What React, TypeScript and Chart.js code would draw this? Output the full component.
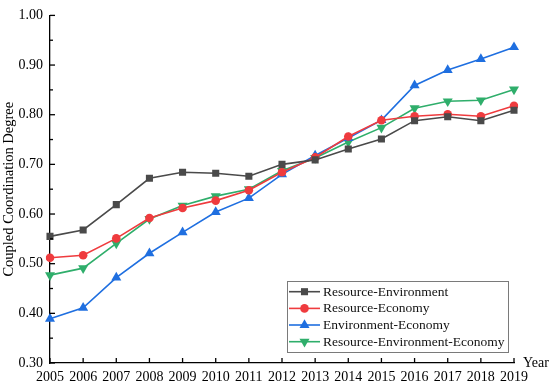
import React, { useEffect, useRef } from "react";
import { Chart, registerables } from "chart.js";

Chart.register(...registerables);

const years = ["2005","2006","2007","2008","2009","2010","2011","2012","2013","2014","2015","2016","2017","2018","2019"];
const resourceEnvironment = [0.555,0.568,0.619,0.672,0.684,0.682,0.676,0.700,0.709,0.731,0.751,0.788,0.796,0.788,0.809];
const resourceEconomy = [0.512,0.517,0.551,0.592,0.612,0.627,0.648,0.684,0.714,0.756,0.789,0.797,0.801,0.797,0.818];
const environmentEconomy = [0.389,0.411,0.472,0.521,0.563,0.604,0.632,0.680,0.718,0.753,0.789,0.859,0.890,0.912,0.936];
const resourceEnvironmentEconomy = [0.477,0.491,0.541,0.590,0.617,0.636,0.650,0.687,0.713,0.745,0.774,0.813,0.827,0.829,0.851];
const seriesLabels = ["Resource-Environment","Resource-Economy","Environment-Economy","Resource-Environment-Economy"];
const yTicks = [0.30,0.40,0.50,0.60,0.70,0.80,0.90,1.00];

const FONT = "'Liberation Serif', 'Times New Roman', serif";
const colors = ["#4a4a4a","#ef3b3e","#1f6fe0","#2fae6b"];
const styles = ["rect","circle","triangle","triangle"];
const rotations = [0,0,0,180];
const radii = [5,4.3,5.8,5.8];

function drawMarker(ctx: CanvasRenderingContext2D, i: number, x: number, y: number) {
  ctx.save();
  ctx.fillStyle = colors[i];
  ctx.beginPath();
  const r = radii[i];
  if (styles[i] === "rect") {
    const s = Math.SQRT1_2 * r;
    ctx.rect(x - s, y - s, 2 * s, 2 * s);
  } else if (styles[i] === "circle") {
    ctx.arc(x, y, r, 0, Math.PI * 2);
  } else {
    const dir = rotations[i] === 180 ? -1 : 1;
    const h = r;
    ctx.moveTo(x, y - dir * h);
    ctx.lineTo(x - r * Math.sqrt(3) / 2, y + dir * h / 2);
    ctx.lineTo(x + r * Math.sqrt(3) / 2, y + dir * h / 2);
    ctx.closePath();
  }
  ctx.fill();
  ctx.restore();
}

const decorPlugin = {
  id: "decor",
  afterDraw(chart: any) {
    const ctx = chart.ctx as CanvasRenderingContext2D;
    const { left, right, bottom } = chart.chartArea;
    const xs = chart.scales.x;
    const ys = chart.scales.y;
    ctx.save();
    ctx.strokeStyle = "#000";
    ctx.lineWidth = 1.3;
    for (let v = 0.30; v <= 1.0001; v += 0.05) {
      const py = ys.getPixelForValue(v);
      const major = Math.abs(Math.round(v * 10) - v * 10) < 0.01;
      ctx.beginPath();
      ctx.moveTo(left, py);
      ctx.lineTo(left + (major ? 5 : 3), py);
      ctx.stroke();
    }
    for (let i = 0; i < years.length; i++) {
      const px = xs.getPixelForValue(i);
      ctx.beginPath();
      ctx.moveTo(px, bottom);
      ctx.lineTo(px, bottom - 5);
      ctx.stroke();
    }
    ctx.fillStyle = "#000";
    ctx.font = `14px ${FONT}`;
    ctx.textBaseline = "middle";
    ctx.textAlign = "left";
    ctx.fillText("Year", right + 9, bottom);

    const bx = 287, by = 281, bw = 221, bh = 71;
    ctx.fillStyle = "#fff";
    ctx.fillRect(bx, by, bw, bh);
    ctx.strokeStyle = "#7a7a7a";
    ctx.lineWidth = 1;
    ctx.strokeRect(bx + 0.5, by + 0.5, bw, bh);
    const rowY = [291.7, 308.4, 325, 341.7];
    ctx.font = `13.5px ${FONT}`;
    for (let i = 0; i < seriesLabels.length; i++) {
      const yy = rowY[i];
      ctx.strokeStyle = colors[i];
      ctx.lineWidth = 1.6;
      ctx.beginPath();
      ctx.moveTo(289, yy);
      ctx.lineTo(320, yy);
      ctx.stroke();
      drawMarker(ctx, i, 304.5, yy);
      ctx.fillStyle = "#111";
      ctx.textBaseline = "middle";
      ctx.fillText(seriesLabels[i], 323, yy + 0.5);
    }
    ctx.restore();
  },
};

export default function App() {
  const ref = useRef<HTMLCanvasElement>(null);
  useEffect(() => {
    document.body.style.margin = "0";
    const seriesData = [resourceEnvironment, resourceEconomy, environmentEconomy, resourceEnvironmentEconomy];
    const chart = new Chart(ref.current!, {
      type: "line",
      data: {
        labels: years,
        datasets: seriesData.map((d, i) => ({
          label: seriesLabels[i],
          data: d,
          borderColor: colors[i],
          backgroundColor: colors[i],
          borderWidth: 1.6,
          pointStyle: styles[i] as any,
          rotation: rotations[i],
          pointRadius: radii[i],
          pointBorderWidth: 0,
          tension: 0,
          fill: false,
        })),
      },
      options: {
        animation: false,
        responsive: false,
        maintainAspectRatio: false,
        layout: { padding: { top: 7, right: 36, left: 0, bottom: 0 } },
        plugins: { legend: { display: false }, tooltip: { enabled: false } },
        scales: {
          x: {
            type: "category",
            offset: false,
            grid: { display: false, drawTicks: false },
            border: { display: true, color: "#000", width: 1.3 },
            ticks: { color: "#000", font: { family: FONT, size: 14 }, padding: 6, maxRotation: 0, autoSkip: false },
            afterFit: (s: any) => { s.height = 23; },
          },
          y: {
            min: 0.3,
            max: 1.0,
            grid: { display: false, drawTicks: false },
            border: { display: true, color: "#000", width: 1.3 },
            afterBuildTicks: (s: any) => { s.ticks = yTicks.map((v) => ({ value: v })); },
            ticks: { color: "#000", font: { family: FONT, size: 14 }, padding: 7, callback: (v: any) => Number(v).toFixed(2) },
            title: { display: true, text: "Coupled Coordination Degree", color: "#000", font: { family: FONT, size: 14.5 }, padding: 0 },
            afterFit: (s: any) => { s.width = 50; },
          },
        },
      },
      plugins: [decorPlugin],
    });
    return () => chart.destroy();
  }, []);
  return <canvas ref={ref} width={550} height={386} style={{ display: "block" }} />;
}
